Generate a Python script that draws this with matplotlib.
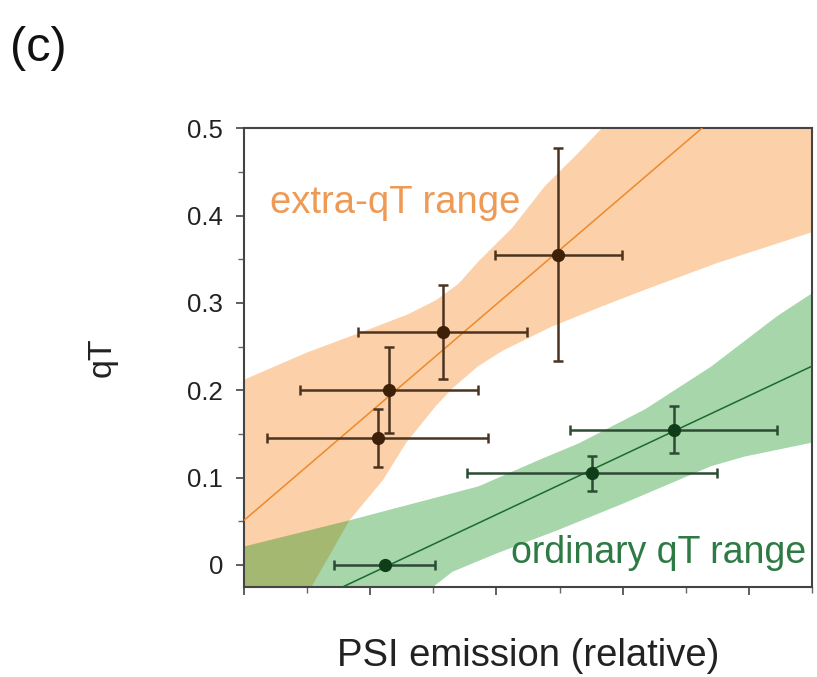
import matplotlib
matplotlib.use("Agg")
import matplotlib.pyplot as plt
from matplotlib.ticker import MultipleLocator, NullFormatter
import numpy as np

plt.rcParams['font.family'] = ['Liberation Sans', 'DejaVu Sans']

# ---- data ----
# extra-qT (orange) points
ext_x = [2.12, 2.30, 3.15, 4.98]
ext_y = [0.145, 0.200, 0.267, 0.355]
ext_xerr = [1.75, 1.41, 1.34, 1.01]
ext_yerr = [0.033, 0.049, 0.054, 0.122]

# ordinary (green) points
ord_x = [2.23, 5.51, 6.81]
ord_y = [0.000, 0.105, 0.155]
ord_xerr = [0.80, 1.98, 1.64]
ord_yerr = [0.0, 0.020, 0.027]

# regression lines (intercept, slope)
ext_line = (0.051, 0.0619)
ord_line = (-0.0784, 0.034)

# confidence band edges
ext_up_x = [0.0, 0.99, 1.99, 2.60, 3.04, 3.40, 3.72, 4.25, 4.77, 5.30, 5.67, 6.50, 9.0]
ext_up_y = [0.212, 0.243, 0.270, 0.287, 0.303, 0.322, 0.348, 0.386, 0.434, 0.472, 0.500, 0.570, 0.780]
ext_lo_x = [0.0, 1.07, 1.67, 2.20, 2.57, 3.04, 3.30, 3.70, 4.09, 4.88, 5.67, 6.35, 7.51, 9.0]
ext_lo_y = [-0.130, -0.025, 0.051, 0.097, 0.140, 0.182, 0.202, 0.227, 0.245, 0.273, 0.296, 0.315, 0.346, 0.381]

ord_up_x = [0.0, 1.67, 3.09, 3.72, 4.67, 5.30, 6.35, 7.40, 8.45, 9.0]
ord_up_y = [0.021, 0.051, 0.078, 0.090, 0.120, 0.139, 0.178, 0.227, 0.285, 0.311]
ord_lo_x = [0.0, 2.0, 3.0, 3.30, 4.0, 4.98, 6.0, 6.88, 7.40, 7.93, 9.0]
ord_lo_y = [-0.200, -0.060, -0.025, -0.008, 0.013, 0.040, 0.070, 0.097, 0.113, 0.124, 0.140]

fig = plt.figure(figsize=(8.17, 6.77), dpi=100)
ax = fig.add_axes([0.2987, 0.1334, 0.6952, 0.6771])

# bands
ax.fill(list(ext_up_x) + list(ext_lo_x[::-1]), list(ext_up_y) + list(ext_lo_y[::-1]),
        color='#FCD0A8', lw=0, zorder=1)
ax.fill(list(ord_up_x) + list(ord_lo_x[::-1]), list(ord_up_y) + list(ord_lo_y[::-1]),
        color='#0A8F14', alpha=0.36, lw=0, zorder=2)

# regression lines
ax.axline((0, ext_line[0]), slope=ext_line[1], color='#EE8A2A', lw=1.1, zorder=3)
ax.axline((0, ord_line[0]), slope=ord_line[1], color='#1D6A2E', lw=1.1, zorder=3)

# error bars
ax.errorbar(ext_x, ext_y, xerr=ext_xerr, yerr=ext_yerr, fmt='o', color='#3E2008',
            ecolor='#4A3420', elinewidth=1.8, capsize=3.6, capthick=1.8,
            markersize=8.5, zorder=5)
ax.errorbar(ord_x, ord_y, xerr=ord_xerr, yerr=ord_yerr, fmt='o', color='#0E3D18',
            ecolor='#2C4A34', elinewidth=1.8, capsize=3.6, capthick=1.8,
            markersize=8.5, zorder=5)

ax.set_xlim(0, 9)
ax.set_ylim(-0.025, 0.5)

ax.xaxis.set_major_locator(MultipleLocator(2))
ax.xaxis.set_minor_locator(MultipleLocator(1))
ax.xaxis.set_major_formatter(NullFormatter())
ax.yaxis.set_minor_locator(MultipleLocator(0.05))
ax.set_yticks([0, 0.1, 0.2, 0.3, 0.4, 0.5])
ax.set_yticklabels(['0', '0.1', '0.2', '0.3', '0.4', '0.5'])
ax.tick_params(which='major', direction='out', length=6, width=1.2, colors='#444444',
               labelsize=18.5, labelcolor='#222222', pad=9)
ax.tick_params(which='minor', direction='out', length=4, width=1.0, colors='#666666')
for s in ax.spines.values():
    s.set_color('#444444')
    s.set_linewidth(1.5)

ax.set_xlabel('PSI emission (relative)', fontsize=27.5, color='#222222', labelpad=22)
ax.set_ylabel('qT', fontsize=24.5, color='#222222', labelpad=50)

ax.text(0.41, 0.414, 'extra-qT range', fontsize=27.5, color='#EE9A55',
        ha='left', va='center', zorder=6)
ax.text(8.9, 0.014, 'ordinary qT range', fontsize=27, color='#2E7A45',
        ha='right', va='center', zorder=6)

fig.text(0.012, 0.928, '(c)', fontsize=35, color='#111111', ha='left', va='center')

fig.savefig('out.png', dpi=100)
